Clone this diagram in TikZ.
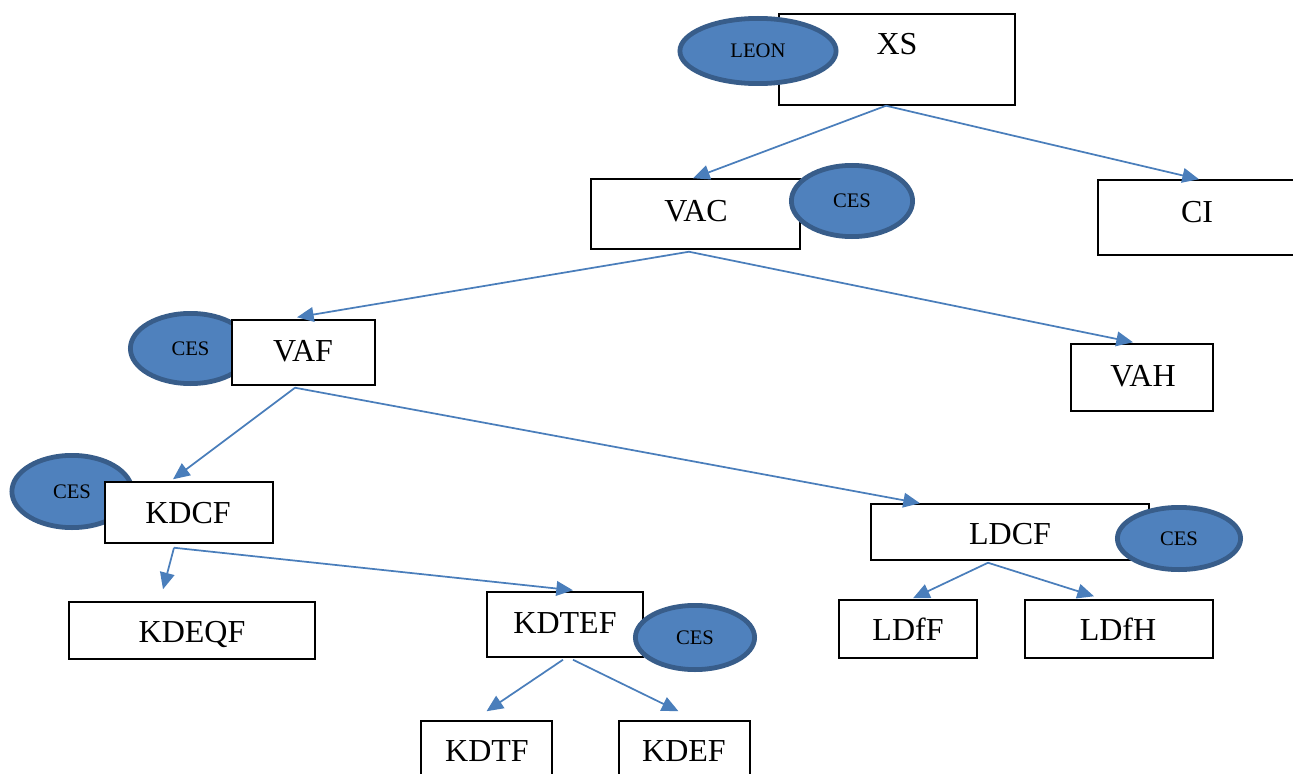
\documentclass[tikz,border=0pt]{standalone}
\usepackage{fontspec}
\setmainfont{Liberation Serif}
\usetikzlibrary{arrows.meta,calc,shapes.geometric}
\definecolor{arr}{RGB}{74,126,187}
\definecolor{efill}{RGB}{79,129,189}
\definecolor{edraw}{RGB}{56,93,138}
\begin{document}
\begin{tikzpicture}[x=0.75pt,y=-0.75pt,
 box/.style 2 args={draw=black,line width=1.1pt,fill=white,inner sep=0pt,rectangle,minimum width=#1*0.75pt,minimum height=#2*0.75pt},
 lbl/.style={anchor=base,inner sep=0pt,font=\fontsize{24}{28}\selectfont},
 oval/.style 2 args={ellipse,draw=edraw,fill=efill,line width=3.6pt,inner sep=0pt,text depth=0pt,font=\fontsize{15.5}{18}\selectfont,minimum width=#1*0.75pt-0.6pt,minimum height=#2*0.75pt-0.6pt},
 conn/.style={draw=arr,line width=1.3pt,-{Triangle[length=12.5pt,width=11pt]}}]
\useasboundingbox (0,0) rectangle (1293,774);

% ellipses behind the boxes of VAF and KDCF
\node[oval={121}{71}] (eVAF) at (190.5,348.5) {CES};
\node[oval={121}{73}] (eKDCF) at (72,491.5) {CES};

% boxes
\node[box={236}{91}] (XS) at (897,59.5) {};
\node[box={209}{70}] (VAC) at (695.5,214) {};
\node[box={198}{75}] (CI) at (1197,217.5) {};
\node[box={143}{65}] (VAF) at (303.5,352.5) {};
\node[box={142}{67}] (VAH) at (1142,377.5) {};
\node[box={168}{61}] (KDCF) at (189,512.5) {};
\node[box={246}{57}] (KDEQF) at (192,630.5) {};
\node[box={156}{65}] (KDTEF) at (565,624.5) {};
\node[box={131}{70}] (KDTF) at (486.5,756) {};
\node[box={131}{70}] (KDEF) at (684.5,756) {};
\node[box={278}{56}] (LDCF) at (1010,532) {};
\node[box={138}{58}] (LDfF) at (908,629) {};
\node[box={188}{58}] (LDfH) at (1119,629) {};

% ellipses in front
\node[oval={157}{66}] (eXS) at (758,51) {LEON};
\node[oval={122}{72}] (eVAC) at (852,201) {CES};
\node[oval={124}{63}] (eLDCF) at (1179,538.5) {CES};
\node[oval={120}{65}] (eKDTEF) at (695,637.5) {CES};

% labels
\node[lbl] (tXS) at (897,55) {XS};
\node[lbl] (tVAC) at (696,221) {VAC};
\node[lbl] (tCI) at (1197,222) {CI};
\node[lbl] (tVAF) at (303,361) {VAF};
\node[lbl] (tVAH) at (1143,386) {VAH};
\node[lbl] (tKDCF) at (188,523) {KDCF};
\node[lbl] (tKDEQF) at (192,642) {KDEQF};
\node[lbl] (tKDTEF) at (565,633) {KDTEF};
\node[lbl] (tKDTF) at (487,761) {KDTF};
\node[lbl] (tKDEF) at (684,761) {KDEF};
\node[lbl] (tLDCF) at (1010,544) {LDCF};
\node[lbl] (tLDfF) at (908,640) {LDfF};
\node[lbl] (tLDfH) at (1118,640) {LDfH};

% connectors
\draw[conn] ($(XS.south)+(-11,0)$) -- ($(VAC.north)+(-2.5,0)$);
\draw[conn] ($(XS.south)+(-11,0)$) -- ($(CI.north)+(2,0)$);
\draw[conn] ($(VAC.south)+(-6.5,2)$) -- ($(VAF.north)+(-6.5,-2)$);
\draw[conn] ($(VAC.south)+(-6.5,2)$) -- ($(VAH.north)+(-9,-1)$);
\draw[conn] ($(VAF.south)+(-8.5,2)$) -- ($(KDCF.north)+(-16,-2)$);
\draw[conn] ($(VAF.south)+(-8.5,2)$) -- ($(LDCF.north)+(-90,0)$);
\draw[conn] ($(KDCF.south)+(-15,4)$) -- ($(KDEQF.north)+(-29,-12)$);
\draw[conn] ($(KDCF.south)+(-15,4)$) -- ($(KDTEF.north)+(8,-1)$);
\draw[conn] ($(LDCF.south)+(-22,2)$) -- ($(LDfF.north)+(5,-1)$);
\draw[conn] ($(LDCF.south)+(-22,2)$) -- ($(LDfH.north)+(-25,-3)$);
\draw[conn] ($(KDTEF.south)+(-2,2)$) -- ($(KDTF.north)+(0,-9)$);
\draw[conn] ($(KDTEF.south)+(8,2)$) -- ($(KDEF.north)+(-6,-9)$);
\end{tikzpicture}
\end{document}
